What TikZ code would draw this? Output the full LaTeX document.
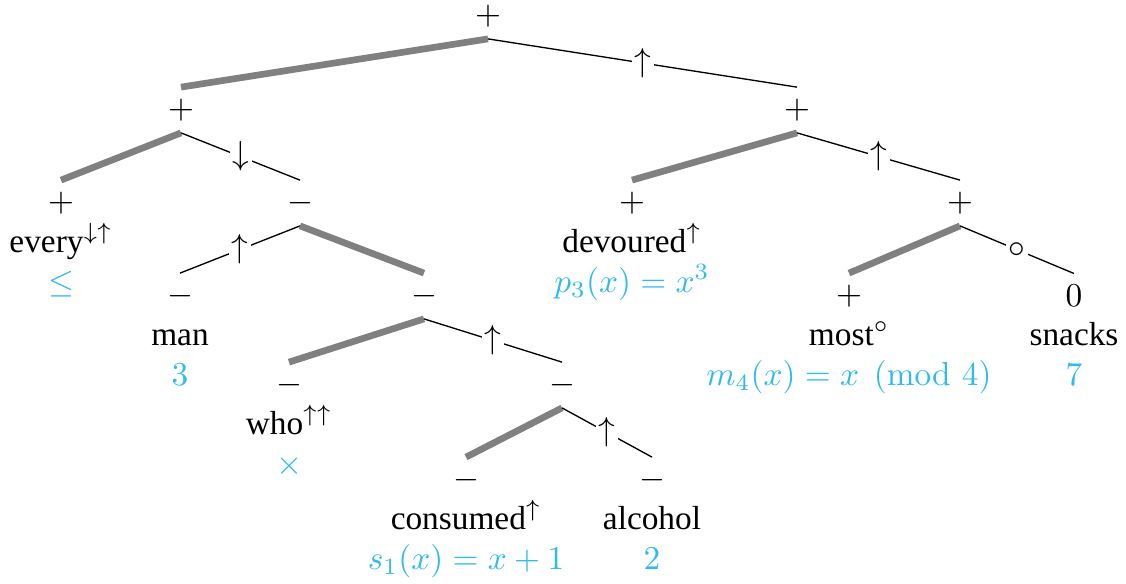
\documentclass[tikz,border=0pt]{standalone}
\usepackage{amsmath,amssymb}
\usepackage[no-math]{fontspec}
\setmainfont{Liberation Serif}
\newfontfamily\wordfont{Liberation Serif}
\usepackage{tikz}
\usetikzlibrary{positioning}
\definecolor{valcol}{HTML}{2EBBEF}
\definecolor{rule}{HTML}{808080}

\begin{document}
\begin{tikzpicture}[x=0.3pt, y=-0.3pt,
  sgn/.style={inner sep=3.33pt},
  word/.style={anchor=base, font=\wordfont},
  val/.style={anchor=base, text=valcol},
  lbranch/.style={line width=2pt, draw=rule},
  rbranch/.style={line width=0.4pt, draw=black},
  lab/.style={fill=white, inner sep=0.8pt}
]
\useasboundingbox (0,0) rectangle (1126,583);

% inner nodes
\node[sgn] (root) at (488,16) {$+$};
\node[sgn] (nA) at (181,110) {$+$};
\node[sgn] (nB) at (797,110) {$+$};
\node[sgn] (nC) at (300,203) {$-$};
\node[sgn] (nD) at (424,296) {$-$};
\node[sgn] (nE) at (562,385) {$-$};
\node[sgn] (nF) at (960,203) {$+$};

% leaves: sign, word, value
\foreach \id/\x/\y/\s/\w/\v in {
    every/61/203/+/every$^{\downarrow\uparrow}$/\leq,
    man/180/296/-/man/3,
    who/289/385/-/who$^{\uparrow\uparrow}$/\times,
    consumed/466/480/-/consumed$^{\uparrow}$/s_1(x) = x+1,
    alcohol/652/480/-/alcohol/2,
    devoured/632/203/+/devoured$^{\uparrow}$/p_3(x) = x^3,
    most/849/296/+/most$^{\circ}$/m_4(x) = x \pmod 4,
    snacks/1074/296/0/snacks/7} {
  \node[sgn] (s\id) at (\x,\y) {$\s$};
  \node[word] (w\id) at (\x,\y+49) {\w};
  \node[val] (v\id) at (\x,\y+89) {$\v$};
}

% branches
\draw[lbranch] (root.south) -- (nA.north);
\draw[rbranch] (root.south) -- node[lab] {$\uparrow$} (nB.north);
\draw[lbranch] (nA.south) -- (severy.north);
\draw[rbranch] (nA.south) -- node[lab] {$\downarrow$} (nC.north);
\draw[rbranch] (nC.south) -- node[lab] {$\uparrow$} (sman.north);
\draw[lbranch] (nC.south) -- (nD.north);
\draw[lbranch] (nD.south) -- (swho.north);
\draw[rbranch] (nD.south) -- node[lab] {$\uparrow$} (nE.north);
\draw[lbranch] (nE.south) -- (sconsumed.north);
\draw[rbranch] (nE.south) -- node[lab] {$\uparrow$} (salcohol.north);
\draw[lbranch] (nB.south) -- (sdevoured.north);
\draw[rbranch] (nB.south) -- node[lab] {$\uparrow$} (nF.north);
\draw[lbranch] (nF.south) -- (smost.north);
\draw[rbranch] (nF.south) -- node[lab] {$\circ$} (ssnacks.north);

\end{tikzpicture}
\end{document}
